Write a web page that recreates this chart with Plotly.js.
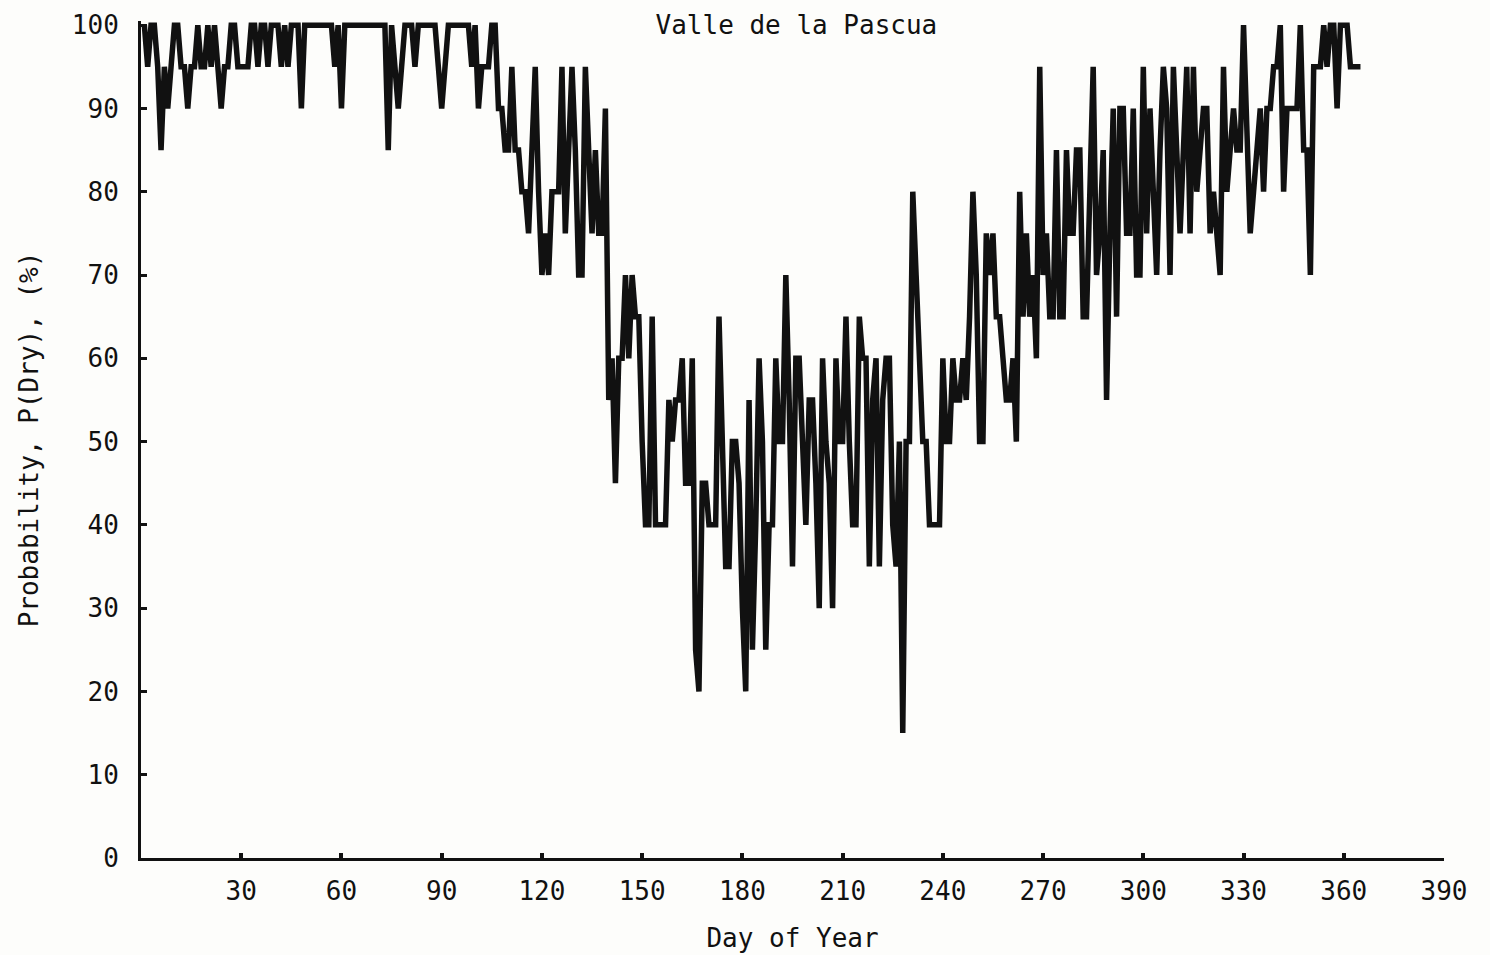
<!DOCTYPE html>
<html>
<head>
<meta charset="utf-8">
<script src="https://cdn.plot.ly/plotly-3.0.1.min.js"></script>
<style>html,body{margin:0;padding:0;background:#fdfdfb;}</style>
</head>
<body>
<div id="chart" style="width:1490px;height:955px;"></div>
<script>
const chartTitle = "Valle de la Pascua";
const xTitle = "Day of Year";
const yTitle = "Probability, P(Dry), (%)";
const xTickVals = [30, 60, 90, 120, 150, 180, 210, 240, 270, 300, 330, 360, 390];
const yTickVals = [0, 10, 20, 30, 40, 50, 60, 70, 80, 90, 100];

// P(Dry) in %, one value per day of year (day 1 .. 365)
const pDry = [
  100,95,100,100,95,85,95,90,95,100,
  100,95,95,90,95,95,100,95,95,100,
  95,100,95,90,95,95,100,100,95,95,
  95,95,100,100,95,100,100,95,100,100,
  100,95,100,95,100,100,100,90,100,100,
  100,100,100,100,100,100,100,95,100,90,
  100,100,100,100,100,100,100,100,100,100,
  100,100,100,85,100,95,90,95,100,100,
  100,95,100,100,100,100,100,100,95,90,
  95,100,100,100,100,100,100,100,95,100,
  90,95,95,95,100,100,90,90,85,85,
  95,85,85,80,80,75,85,95,80,70,
  75,70,80,80,80,95,75,85,95,85,
  70,70,95,85,75,85,75,75,90,55,
  60,45,60,60,70,60,70,65,65,50,
  40,40,65,40,40,40,40,55,50,55,
  55,60,45,45,60,25,20,45,45,40,
  40,40,65,50,35,35,50,50,45,30,
  20,55,25,40,60,50,25,40,40,60,
  50,50,70,55,35,60,60,50,40,55,
  55,45,30,60,50,45,30,60,50,50,
  65,50,40,40,65,60,60,35,55,60,
  35,55,60,60,40,35,50,15,50,50,
  80,70,60,50,50,40,40,40,40,60,
  50,50,60,55,55,60,55,65,80,70,
  50,50,75,70,75,65,65,60,55,55,
  60,50,80,65,75,65,70,60,95,70,
  75,65,65,85,65,65,85,75,75,85,
  85,65,65,80,95,70,75,85,55,75,
  90,65,90,90,75,75,90,70,70,95,
  75,90,80,70,85,95,90,70,95,85,
  75,85,95,75,95,80,85,90,90,75,
  80,75,70,95,80,85,90,85,85,100,
  85,75,80,85,90,80,90,90,95,95,
  100,80,90,90,90,90,100,85,85,70,
  95,95,95,100,95,100,100,90,100,100,
  100,95,95,95,95
];
const days = pDry.map((v, i) => i + 1);

const ink = '#111111';
const fontFam = 'DejaVu Sans Mono, monospace';

const trace = {
  x: days,
  y: pDry,
  type: 'scatter',
  mode: 'lines',
  line: {color: ink, width: 5.5},
  hoverinfo: 'x+y'
};

const layout = {
  width: 1490,
  height: 955,
  margin: {l: 141, r: 46, t: 21, b: 97},
  paper_bgcolor: '#fdfdfb',
  plot_bgcolor: '#fdfdfb',
  showlegend: false,
  font: {family: fontFam, size: 26, color: ink},
  title: {
    text: chartTitle,
    font: {family: fontFam, size: 26, color: ink},
    x: 0.503, xref: 'paper', xanchor: 'center',
    y: 1 - 25 / 955, yref: 'container', yanchor: 'middle'
  },
  xaxis: {
    range: [0, 390],
    tickmode: 'array',
    tickvals: xTickVals,
    ticktext: xTickVals.map(String),
    showline: true, linecolor: ink, linewidth: 3,
    ticks: 'inside', ticklen: 5, tickwidth: 4, tickcolor: ink,
    showgrid: false, zeroline: false,
    tickfont: {family: fontFam, size: 26, color: ink},
    ticklabelstandoff: 8,
    title: {text: xTitle, font: {family: fontFam, size: 26, color: ink}, standoff: 24}
  },
  yaxis: {
    range: [0, 100.5],
    tickmode: 'array',
    tickvals: yTickVals,
    ticktext: yTickVals.map(String),
    showline: true, linecolor: ink, linewidth: 3,
    ticks: 'inside', ticklen: 6, tickwidth: 3, tickcolor: ink,
    showgrid: false, zeroline: false,
    tickfont: {family: fontFam, size: 26, color: ink},
    ticklabelstandoff: 14,
    title: {text: yTitle, font: {family: fontFam, size: 26, color: ink}, standoff: 26}
  }
};

Plotly.newPlot('chart', [trace], layout, {displayModeBar: false, staticPlot: true});
</script>
</body>
</html>
